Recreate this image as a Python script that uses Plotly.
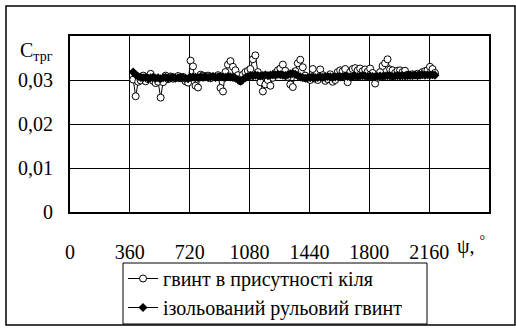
import plotly.graph_objects as go

psi = [380 + 15 * i for i in range(122)]

keel = [
    0.0301, 0.0263, 0.0296, 0.0299, 0.0310, 0.0297, 0.0302, 0.0314, 0.0298, 0.0293,
    0.0296, 0.0260, 0.0295, 0.0310, 0.0302, 0.0308, 0.0303, 0.0306, 0.0309, 0.0304,
    0.0307, 0.0297, 0.0294, 0.0344, 0.0331, 0.0287, 0.0283, 0.0312, 0.0310, 0.0307,
    0.0310, 0.0304, 0.0308, 0.0306, 0.0311, 0.0282, 0.0274, 0.0318, 0.0335, 0.0343,
    0.0330, 0.0322, 0.0311, 0.0297, 0.0312, 0.0318, 0.0321, 0.0325, 0.0347, 0.0356,
    0.0318, 0.0295, 0.0274, 0.0290, 0.0300, 0.0287, 0.0305, 0.0316, 0.0322, 0.0326,
    0.0335, 0.0321, 0.0307, 0.0290, 0.0284, 0.0320, 0.0338, 0.0346, 0.0329, 0.0310,
    0.0303, 0.0300, 0.0325, 0.0303, 0.0300, 0.0324, 0.0311, 0.0298, 0.0302, 0.0313,
    0.0296, 0.0300, 0.0318, 0.0322, 0.0320, 0.0325, 0.0295, 0.0318, 0.0325, 0.0327,
    0.0322, 0.0326, 0.0320, 0.0324, 0.0319, 0.0326, 0.0316, 0.0292, 0.0305, 0.0318,
    0.0332, 0.0338, 0.0347, 0.0324, 0.0322, 0.0316, 0.0321, 0.0322, 0.0318, 0.0321,
    0.0312, 0.0310, 0.0313, 0.0311, 0.0314, 0.0312, 0.0318, 0.0320, 0.0322, 0.0330,
    0.0325, 0.0316,
]

isolated = [
    0.0318, 0.0312, 0.0308, 0.0306, 0.0305, 0.0306, 0.0304, 0.0305, 0.0306, 0.0304,
    0.0305, 0.0303, 0.0305, 0.0306, 0.0304, 0.0305, 0.0306, 0.0304, 0.0305, 0.0306,
    0.0305, 0.0304, 0.0303, 0.0306, 0.0307, 0.0306, 0.0305, 0.0307, 0.0306, 0.0307,
    0.0306, 0.0307, 0.0308, 0.0306, 0.0307, 0.0308, 0.0307, 0.0306, 0.0308, 0.0307,
    0.0306, 0.0304, 0.0301, 0.0298, 0.0301, 0.0305, 0.0308, 0.0310, 0.0309, 0.0311,
    0.0310, 0.0309, 0.0310, 0.0312, 0.0310, 0.0311, 0.0312, 0.0311, 0.0313, 0.0312,
    0.0311, 0.0310, 0.0312, 0.0314, 0.0315, 0.0313, 0.0310, 0.0307, 0.0305, 0.0304,
    0.0305, 0.0305, 0.0306, 0.0305, 0.0306, 0.0307, 0.0306, 0.0307, 0.0308, 0.0307,
    0.0306, 0.0307, 0.0308, 0.0307, 0.0308, 0.0309, 0.0308, 0.0307, 0.0308, 0.0309,
    0.0308, 0.0309, 0.0310, 0.0309, 0.0308, 0.0309, 0.0308, 0.0307, 0.0308, 0.0309,
    0.0308, 0.0309, 0.0310, 0.0309, 0.0308, 0.0309, 0.0310, 0.0309, 0.0310, 0.0309,
    0.0310, 0.0311, 0.0310, 0.0311, 0.0310, 0.0311, 0.0312, 0.0311, 0.0312, 0.0311,
    0.0312, 0.0311,
]

x_ticks = [0, 360, 720, 1080, 1440, 1800, 2160]
y_ticks = [0, 0.01, 0.02, 0.03]
y_labels = ["0", "0,01", "0,02", "0,03"]

FONT = "Liberation Serif"
FS = 20

fig = go.Figure()
fig.add_trace(go.Scatter(
    x=psi, y=keel, mode="lines+markers", name="гвинт в присутності кіля",
    line=dict(color="black", width=1),
    marker=dict(symbol="circle", size=7, color="white", line=dict(color="black", width=1)),
))
fig.add_trace(go.Scatter(
    x=psi, y=isolated, mode="lines+markers", name="ізольований рульовий гвинт",
    line=dict(color="black", width=1),
    marker=dict(symbol="diamond", size=7, color="black", line=dict(color="black", width=0)),
))

W, H = 516, 331
L, R, T, B = 70, 516 - 489, 36, 331 - 212
pw, ph = W - L - R, H - T - B

def px(x):
    return (x - L) / pw

def py(y):
    return (H - B - y) / ph

tf = dict(family=FONT, size=FS, color="black")

fig.update_layout(
    width=W, height=H,
    margin=dict(l=L, r=R, t=T, b=B, autoexpand=False),
    paper_bgcolor="white", plot_bgcolor="white",
    font=tf,
    showlegend=True,
    legend=dict(
        xref="container", yref="container",
        x=123 / W, y=1 - 259 / H, xanchor="left", yanchor="top",
        borderwidth=0, bgcolor="rgba(0,0,0,0)",
        font=tf, tracegroupgap=0,
    ),
    xaxis=dict(
        range=[0, 2520], tickvals=x_ticks, ticktext=[str(v) for v in x_ticks],
        tickfont=tf, automargin=False,
        showgrid=True, gridcolor="black", gridwidth=1,
        showline=True, linecolor="black", linewidth=2, mirror=True,
        ticks="outside", ticklen=21, tickcolor="rgba(0,0,0,0)",
        zeroline=False, fixedrange=True,
    ),
    yaxis=dict(
        range=[0, 0.04], tickvals=y_ticks, ticktext=y_labels,
        tickfont=tf, automargin=False,
        showgrid=True, gridcolor="black", gridwidth=1,
        showline=True, linecolor="black", linewidth=2, mirror=True,
        ticks="outside", ticklen=11, tickcolor="rgba(0,0,0,0)",
        zeroline=False, fixedrange=True,
    ),
    shapes=[
        dict(type="rect", xref="paper", yref="paper",
             x0=px(6), x1=px(515), y0=py(325), y1=py(6),
             line=dict(color="black", width=1.5), fillcolor="rgba(0,0,0,0)", layer="below"),
        dict(type="rect", xref="paper", yref="paper",
             x0=px(123), x1=px(427), y0=py(324), y1=py(263),
             line=dict(color="black", width=1), fillcolor="rgba(0,0,0,0)", layer="below"),
    ],
    annotations=[
        dict(text="C<sub>трг</sub>", xref="paper", yref="paper", x=px(18), y=py(66),
             xanchor="left", yanchor="bottom", showarrow=False, font=tf),
        dict(text="ψ, <sup>°</sup>", xref="paper", yref="paper", x=px(455), y=py(245),
             xanchor="left", yanchor="middle", showarrow=False, font=tf),
    ],
)

fig.write_html(
    "out.html",
    config={"displayModeBar": False},
    post_script="document.body.style.margin='0';document.body.style.overflow='hidden';",
)
